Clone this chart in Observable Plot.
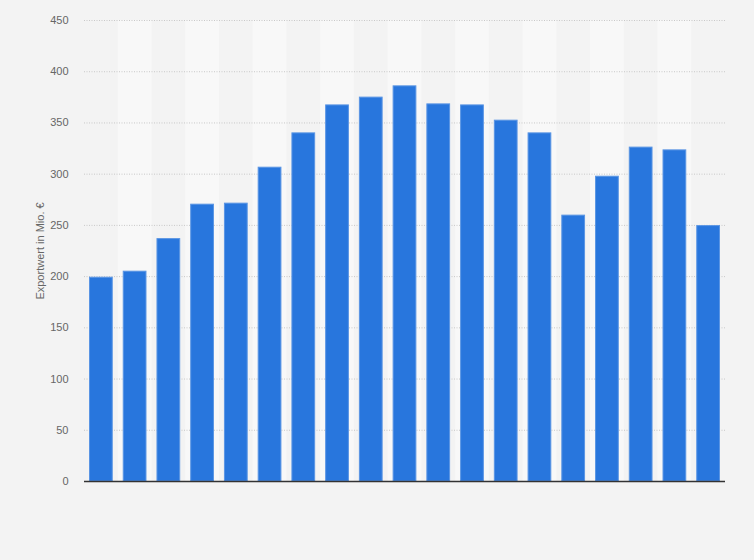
<!DOCTYPE html>
<html>
<head>
<meta charset="utf-8">
<script src="https://cdn.jsdelivr.net/npm/d3@7"></script>
<script src="https://cdn.jsdelivr.net/npm/@observablehq/plot@0.6"></script>
<style>
  html, body { margin: 0; padding: 0; background: #f3f3f3; }
  #chart { width: 754px; height: 560px; }
</style>
</head>
<body>
<div id="chart"></div>
<script>
const years = ["2004","2005","2006","2007","2008","2009","2010","2011","2012","2013","2014","2015","2016","2017","2018","2019","2020","2021","2022"];
const values = [199.4, 205.3, 237.1, 270.7, 271.7, 306.8, 340.3, 367.6, 375.2, 386.2, 368.6, 367.6, 352.7, 340.3, 260.0, 298.0, 326.4, 323.7, 249.8];
const yTicks = [0, 50, 100, 150, 200, 250, 300, 350, 400, 450];
const yLabel = "Exportwert in Mio. €";

const data = years.map((year, i) => ({year, value: values[i]}));
const stripes = years.filter((d, i) => i % 2 === 1);

const chart = Plot.plot({
  width: 754,
  height: 560,
  marginTop: 20,
  marginBottom: 79,
  marginLeft: 84,
  marginRight: 29,
  style: {background: "#f3f3f3", fontFamily: "'Liberation Sans', Arial, sans-serif", fontSize: "11px", color: "#666"},
  x: {domain: years, padding: 0, round: false, axis: null},
  y: {domain: [0, 450], ticks: yTicks, label: null},
  marks: [
    Plot.barY(stripes, {x: d => d, y1: 0, y2: 450, fill: "#f8f8f8"}),
    Plot.gridY(yTicks.filter(d => d > 0), {stroke: "#c8c8c8", strokeOpacity: 1, strokeDasharray: "1,1.5"}),
    Plot.barY(data, {x: "year", y: "value", fill: "#2876dd", stroke: "#5a95e4", strokeWidth: 1, insetLeft: 5.5, insetRight: 5.5, insetTop: 0.5}),
    Plot.ruleY([0], {stroke: "#333", strokeWidth: 1.5}),
    Plot.axisY(yTicks, {tickSize: 0, tickPadding: 16, fill: "#666", label: yLabel, labelAnchor: "center", labelArrow: "none", labelOffset: 48})
  ]
});
document.getElementById("chart").appendChild(chart);
</script>
</body>
</html>
